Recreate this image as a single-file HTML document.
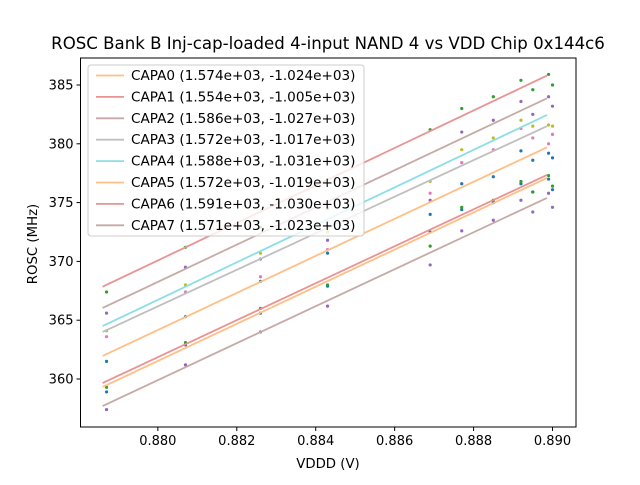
<!DOCTYPE html>
<html><head><meta charset="utf-8"><style>
body{margin:0;background:#fff}
svg text{font-family:"DejaVu Sans","Liberation Sans",sans-serif;fill:#000}
</style></head><body>
<svg id="chart" width="640" height="480" xmlns="http://www.w3.org/2000/svg">
<rect width="640" height="480" fill="#fff"/>
<text x="328" y="49" font-size="16.6" text-anchor="middle">ROSC Bank B Inj-cap-loaded 4-input NAND 4 vs VDD Chip 0x144c6</text>
<g id="plot"></g>
<text x="328" y="468" font-size="13.3" text-anchor="middle">VDDD (V)</text>
<text transform="translate(37,244) rotate(-90)" font-size="13.3" text-anchor="middle">ROSC (MHz)</text>
</svg>
<script>
const seriesNames=["CAPA0 (1.574e+03, -1.024e+03)","CAPA1 (1.554e+03, -1.005e+03)","CAPA2 (1.586e+03, -1.027e+03)","CAPA3 (1.572e+03, -1.017e+03)","CAPA4 (1.588e+03, -1.031e+03)","CAPA5 (1.572e+03, -1.019e+03)","CAPA6 (1.591e+03, -1.030e+03)","CAPA7 (1.571e+03, -1.023e+03)"];
const lineColors=["#ffbf86","#ea9393","#c5aaa5","#bfbfbf","#8bdee7","#ffbf86","#ea9393","#c5aaa5"];
const dotColors=["#1f77b4","#2ca02c","#9467bd","#e377c2","#bcbd22","#1f77b4","#2ca02c","#9467bd"];
const lineX=[0.8786,0.88986];
const lineStart=[359.32,359.66,366.04,364.0,364.5,361.96,367.85,357.7];
const lineEnd=[377.1,377.35,383.87,381.5,382.45,379.7,385.8,375.4];
const dotX=[0.8787,0.8807,0.8826,0.8843,0.8869,0.8877,0.8885,0.8892,0.8895,0.8899,0.8900];
const dots0=[358.9,362.9,365.6,367.9,372.5,374.4,375.0,376.6,375.9,377.0,376.1];
const dots1=[359.3,363.1,366.0,368.0,371.3,374.6,375.2,376.8,375.9,377.3,376.4];
const dots2=[365.6,369.5,370.2,371.8,375.2,381.0,382.0,383.6,382.5,384.0,383.2];
const dots3=[363.6,367.4,368.7,371.0,375.8,378.4,379.5,381.3,380.5,380.0,380.8];
const dots4=[364.1,368.0,370.7,372.5,376.8,379.5,380.5,382.0,381.5,381.6,381.5];
const dots5=[361.5,365.3,368.3,370.7,374.0,376.6,377.2,379.4,378.6,379.2,378.8];
const dots6=[367.4,371.2,372.9,374.5,381.2,383.0,384.0,385.4,384.6,385.9,385.0];
const dots7=[357.4,361.2,364.0,366.2,369.7,372.6,373.5,375.2,374.2,375.8,374.6];
const allDots=[dots0,dots1,dots2,dots3,dots4,dots5,dots6,dots7];
const xTicks=[0.880,0.882,0.884,0.886,0.888,0.890];
const yTicks=[360,365,370,375,380,385];

const L=80.5,R=576,T=58,B=427;
const xMin=0.87804,xMax=0.890595;
const X=v=>L+(v-xMin)/(xMax-xMin)*(R-L);
const Y=v=>379+(360-v)*11.76;
const NS="http://www.w3.org/2000/svg";
const plot=document.getElementById('plot');
function mk(tag,attrs,parent){const e=document.createElementNS(NS,tag);for(const k in attrs)e.setAttribute(k,attrs[k]);(parent||plot).appendChild(e);return e;}

allDots.forEach((arr,s)=>{arr.forEach((v,i)=>{
 const c=mk('circle',{cx:X(dotX[i]),cy:Y(v),r:1.6,fill:dotColors[s]});
 
 
});});
lineStart.forEach((v,s)=>{
 const l=mk('line',{x1:X(lineX[0]),y1:Y(v),x2:X(lineX[1]),y2:Y(lineEnd[s]),stroke:lineColors[s],'stroke-width':1.8});
 
 
});
const frame=mk('rect',{x:L,y:T,width:R-L,height:B-T,fill:'none',stroke:'#000','stroke-width':1});


xTicks.forEach(t=>{
 mk('line',{x1:X(t),x2:X(t),y1:B,y2:B+4,stroke:'#000'});
 const tx=mk('text',{x:X(t),y:B+18,'font-size':13,'text-anchor':'middle'});
 tx.textContent=t.toFixed(3);
 
 
});
yTicks.forEach(t=>{
 mk('line',{x1:L-4,x2:L,y1:Y(t),y2:Y(t),stroke:'#000'});
 const tx=mk('text',{x:L-7,y:Y(t)+4.5,'font-size':13,'text-anchor':'end'});
 tx.textContent=t;
 
 
});
const lg=mk('rect',{x:88,y:65,width:276,height:171,rx:3,fill:'#fff','fill-opacity':0.8,stroke:'#ccc'});


seriesNames.forEach((n,i)=>{
 const y=75.5+i*21.4;
 mk('line',{x1:96,x2:124,y1:y,y2:y,stroke:lineColors[i],'stroke-width':1.8});
 const tx=mk('text',{x:131,y:y+4.5,'font-size':13.6});
 tx.textContent=n;
 
 
});
</script>
</body></html>
